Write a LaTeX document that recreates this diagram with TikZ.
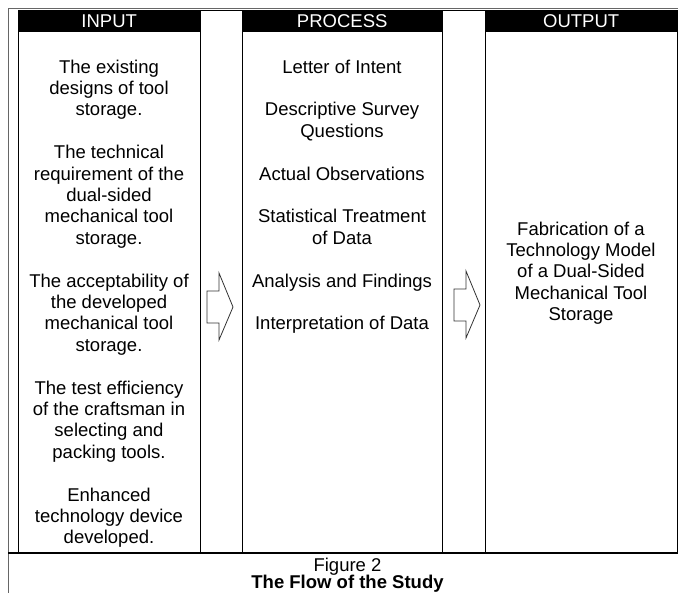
\documentclass[tikz,border=0pt]{standalone}
\usepackage{fontspec}
\setmainfont{Liberation Sans}
\usetikzlibrary{positioning}
\newcommand{\flowfont}{\fontsize{18.5}{21.4}\selectfont}
\tikzset{
  outline/.style={draw=black!60, line width=0.8pt},
  col/.style={rectangle, draw, line width=0.8pt, anchor=north west, inner sep=0pt, minimum height=543pt},
  colhead/.style={rectangle, fill=black, text=white, anchor=north west, inner sep=0pt, minimum height=22pt, font=\flowfont},
  txt/.style={align=center, anchor=north, inner sep=0pt, font=\flowfont},
  flowarrow/.pic={\draw[line width=0.8pt, draw=black!80, line join=miter] (0,-16) -- (12,-16) -- (12,-34) -- (26,0) -- (12,33) -- (12,16) -- (0,16) -- cycle;}
}
\begin{document}
\begin{tikzpicture}[x=1pt, y=-1pt]
    \useasboundingbox (0,0) rectangle (678,593);

    % Outer table frame
    \coordinate (tl) at (8,8);
    \draw[outline] (678,8) -- (tl) -- (8,593);

    % Columns
    \node[col, minimum width=182pt] (input) at (18,10) {};
    \node[col, minimum width=42pt] (gapA) at (200,10) {};
    \node[col, minimum width=200pt] (process) at (242,10) {};
    \node[col, minimum width=43pt] (gapB) at (442,10) {};
    \node[col, minimum width=192pt] (output) at (485,10) {};
    \draw[line width=1.3pt] (8,553) -- (677.4,553);

    % Column headers
    \node[colhead, minimum width=182pt] (inputhead) at (input.north west) {INPUT};
    \node[colhead, minimum width=200pt] (processhead) at (process.north west) {PROCESS};
    \node[colhead, minimum width=192pt] (outputhead) at (output.north west) {OUTPUT};

    % Input items
    \node[txt] (inputtext) at (109,59.5) {The existing\\designs of tool\\storage.\\[21.4pt]
      The technical\\requirement of the\\dual-sided\\mechanical tool\\storage.\\[21.4pt]
      The acceptability of\\the developed\\mechanical tool\\storage.\\[21.4pt]
      The test efficiency\\of the craftsman in\\selecting and\\packing tools.\\[21.4pt]
      Enhanced\\technology device\\developed.};

    % Process steps
    \node[txt] (processtext) at (342,59.5) {Letter of Intent\\[21.4pt]
      Descriptive Survey\\Questions\\[21.4pt]
      Actual Observations\\[21.4pt]
      Statistical Treatment\\of Data\\[21.4pt]
      Analysis and Findings\\[21.4pt]
      Interpretation of Data};

    % Output
    \node[txt] (outputtext) at (581,221.5) {Fabrication of a\\Technology Model\\of a Dual-Sided\\Mechanical Tool\\Storage};

    % Hollow arrows between the columns
    \coordinate (arrowA) at (207,307);
    \coordinate (arrowB) at (454,305);
    \pic at (arrowA) {flowarrow};
    \pic at (arrowB) {flowarrow};

    % Caption
    \node[font=\flowfont, anchor=base] (fignum) at (347.5,572) {Figure 2};
    \node[font=\flowfont\bfseries, anchor=base] (figtitle) at (347.5,589) {The Flow of the Study};
\end{tikzpicture}
\end{document}
